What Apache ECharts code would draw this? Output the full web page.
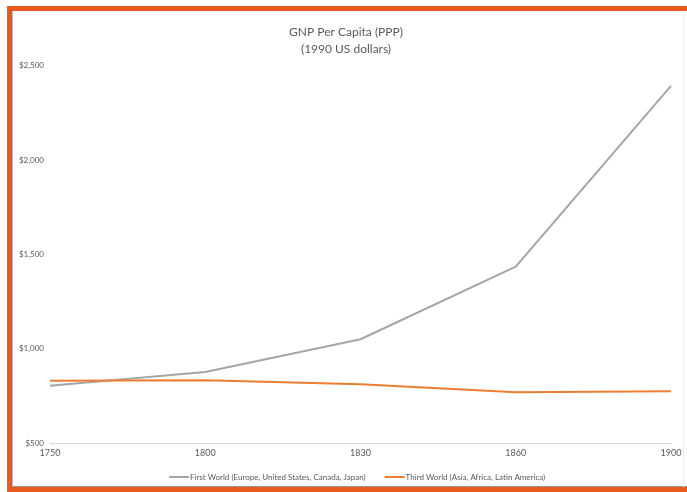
<!DOCTYPE html>
<html>
<head>
<meta charset="utf-8">
<script src="https://cdn.jsdelivr.net/npm/echarts@6/dist/echarts.min.js"></script>
<style>
html,body{margin:0;padding:0;background:#fff;}
#chart{width:687px;height:492px;}
</style>
</head>
<body>
<div id="chart"></div>
<script>
const years = ['1750', '1800', '1830', '1860', '1900'];
const firstWorld = [804, 876, 1050, 1435, 2393];
const thirdWorld = [830, 832, 811, 769, 774];
const seriesNames = ['First World (Europe, United States, Canada, Japan)', 'Third World (Asia, Africa, Latin America)'];

const chart = echarts.init(document.getElementById('chart'));
chart.setOption({
  animation: false,
  graphic: [
    {type: 'line', silent: true, shape: {x1: 7, y1: 8.5, x2: 687, y2: 8.5}, style: {stroke: '#E65A1E', lineWidth: 5}},
    {type: 'line', silent: true, shape: {x1: 9.5, y1: 6, x2: 9.5, y2: 492}, style: {stroke: '#E65A1E', lineWidth: 5}},
    {type: 'line', silent: true, shape: {x1: 7, y1: 489.5, x2: 687, y2: 489.5}, style: {stroke: '#E65A1E', lineWidth: 5}},
    {type: 'line', silent: true, shape: {x1: 12.5, y1: 11, x2: 12.5, y2: 487}, style: {stroke: '#bbbbbb', lineWidth: 1}},
    {type: 'line', silent: true, shape: {x1: 12, y1: 486.5, x2: 687, y2: 486.5}, style: {stroke: '#999999', lineWidth: 1}},
    {type: 'line', silent: true, shape: {x1: 683.5, y1: 11, x2: 683.5, y2: 487}, style: {stroke: '#eeeeee', lineWidth: 1}}
  ],
  title: {
    text: 'GNP Per Capita (PPP)\n(1990 US dollars)',
    left: 341,
    textAlign: 'center',
    top: 19,
    textStyle: {fontFamily: 'Lato', fontSize: 12, fontWeight: 'normal', color: '#595959', lineHeight: 17}
  },
  legend: {
    top: 468,
    left: 164,
    icon: 'rect',
    itemWidth: 20,
    itemHeight: 2,
    itemGap: 19,
    textStyle: {fontFamily: 'Lato', fontSize: 8, color: '#595959', padding: [0,0,0,-4]},
    data: seriesNames
  },
  grid: {left: 50, right: 16, top: 65.7, bottom: 49, containLabel: false},
  xAxis: {
    type: 'category',
    data: years,
    boundaryGap: false,
    axisLine: {lineStyle: {color: '#D9D9D9', width: 1}},
    axisTick: {show: false},
    axisLabel: {fontFamily: 'Lato', fontSize: 9, color: '#595959', margin: 6}
  },
  yAxis: {
    type: 'value',
    min: 500,
    max: 2500,
    interval: 500,
    axisLine: {show: false},
    axisTick: {show: false},
    splitLine: {show: false},
    axisLabel: {
      fontFamily: 'Lato', fontSize: 8, color: '#595959', margin: 6,
      formatter: v => '$' + v.toLocaleString('en-US')
    }
  },
  series: [
    {name: seriesNames[0], type: 'line', data: firstWorld, symbol: 'none', lineStyle: {color: '#A5A5A5', width: 2}, itemStyle: {color: '#A5A5A5'}},
    {name: seriesNames[1], type: 'line', data: thirdWorld, symbol: 'none', lineStyle: {color: '#ED7D31', width: 2}, itemStyle: {color: '#ED7D31'}}
  ]
});
</script>
</body>
</html>
